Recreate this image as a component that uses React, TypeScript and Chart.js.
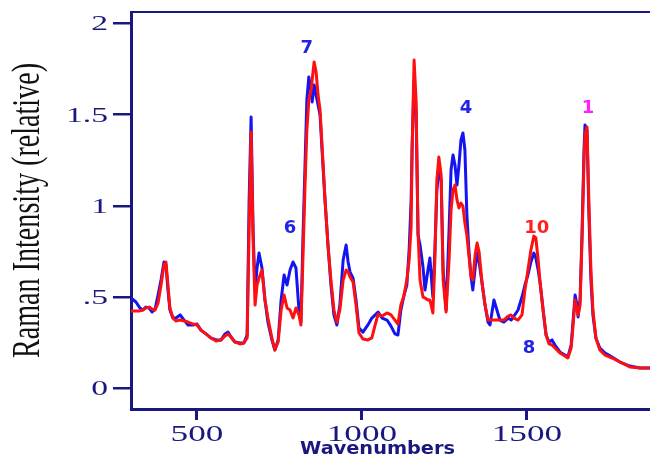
import React, { useEffect, useRef } from "react";
import { Chart, registerables } from "chart.js";

Chart.register(...registerables);

// Raman shift (cm-1), shared by both spectra
const wavenumbers = [
  300, 315, 327, 336, 345, 355, 364, 373, 382, 391,
  400, 406, 412, 418, 427, 436, 449, 461, 473, 488,
  500, 512, 527, 542, 558, 573, 585, 594, 603, 615,
  630, 642, 652, 658, 664, 670, 676, 682, 688, 697,
  706, 715, 727, 736, 746, 755, 764, 773, 782, 791,
  800, 809, 815, 821, 827, 833, 839, 846, 849, 855,
  861, 867, 873, 879, 888, 897, 906, 915, 924, 933,
  943, 952, 958, 964, 973, 982, 991, 1003, 1018, 1030,
  1040, 1049, 1061, 1076, 1088, 1100, 1109, 1118, 1127, 1136,
  1143, 1149, 1152, 1158, 1164, 1170, 1176, 1185, 1191, 1200,
  1206, 1215, 1221, 1227, 1233, 1240, 1246, 1255, 1264, 1270,
  1276, 1282, 1288, 1294, 1300, 1306, 1312, 1318, 1324, 1330,
  1336, 1343, 1349, 1355, 1364, 1373, 1382, 1388, 1400, 1409,
  1418, 1430, 1443, 1452, 1461, 1473, 1485, 1494, 1503, 1512,
  1521, 1527, 1534, 1540, 1549, 1558, 1567, 1576, 1585, 1600,
  1615, 1624, 1634, 1640, 1646, 1652, 1655, 1661, 1667, 1673,
  1676, 1682, 1688, 1694, 1700, 1709, 1721, 1737, 1758, 1782,
  1812, 1843, 1873,
];

// Blue spectrum (relative intensity)
const blueIntensity = [
  0.495, 0.473, 0.44, 0.429, 0.445, 0.44, 0.418, 0.434, 0.511, 0.593,
  0.692, 0.676, 0.539, 0.429, 0.385, 0.385, 0.402, 0.374, 0.347, 0.347,
  0.352, 0.319, 0.298, 0.276, 0.265, 0.265, 0.298, 0.308, 0.281, 0.254,
  0.248, 0.248, 0.292, 1.032, 1.486, 0.867, 0.539, 0.659, 0.741, 0.659,
  0.484, 0.363, 0.265, 0.21, 0.265, 0.484, 0.621, 0.566, 0.648, 0.692,
  0.659, 0.429, 0.363, 0.813, 1.196, 1.58, 1.706, 1.623, 1.569, 1.662,
  1.607, 1.552, 1.497, 1.306, 1.032, 0.785, 0.566, 0.402, 0.347, 0.456,
  0.703, 0.785, 0.692, 0.637, 0.604, 0.484, 0.33, 0.308, 0.347, 0.385,
  0.402, 0.418, 0.385, 0.374, 0.341, 0.298, 0.292, 0.429, 0.506, 0.566,
  0.758, 1.032, 1.322, 1.689, 1.525, 0.84, 0.785, 0.665, 0.539, 0.648,
  0.714, 0.5, 0.758, 1.086, 1.196, 1.141, 0.648, 0.429, 0.867, 1.196,
  1.278, 1.223, 1.114, 1.223, 1.36, 1.399, 1.306, 0.95, 0.758, 0.621,
  0.539, 0.659, 0.741, 0.692, 0.577, 0.456, 0.363, 0.347, 0.484, 0.429,
  0.374, 0.363, 0.385, 0.374, 0.396, 0.429, 0.5, 0.566, 0.621, 0.692,
  0.741, 0.714, 0.648, 0.577, 0.429, 0.292, 0.254, 0.265, 0.237, 0.199,
  0.182, 0.171, 0.237, 0.374, 0.511, 0.456, 0.391, 0.484, 0.851, 1.306,
  1.443, 1.415, 0.939, 0.593, 0.402, 0.276, 0.221, 0.193, 0.171, 0.144,
  0.122, 0.111, 0.111,
];

// Red spectrum (relative intensity)
const redIntensity = [
  0.424, 0.424, 0.424, 0.429, 0.44, 0.445, 0.434, 0.429, 0.467, 0.566,
  0.676, 0.692, 0.566, 0.44, 0.385, 0.369, 0.374, 0.369, 0.363, 0.352,
  0.347, 0.319, 0.298, 0.276, 0.259, 0.265, 0.287, 0.298, 0.281, 0.254,
  0.243, 0.248, 0.276, 0.867, 1.404, 0.813, 0.456, 0.566, 0.604, 0.648,
  0.484, 0.385, 0.276, 0.21, 0.254, 0.429, 0.511, 0.44, 0.429, 0.385,
  0.44, 0.402, 0.347, 0.703, 1.086, 1.415, 1.58, 1.634, 1.689, 1.788,
  1.733, 1.607, 1.525, 1.333, 1.032, 0.785, 0.593, 0.429, 0.363, 0.429,
  0.593, 0.648, 0.637, 0.61, 0.582, 0.456, 0.303, 0.27, 0.265, 0.276,
  0.347, 0.407, 0.396, 0.413, 0.402, 0.374, 0.352, 0.456, 0.506, 0.593,
  0.703, 0.884, 1.306, 1.799, 1.58, 0.851, 0.593, 0.5, 0.495, 0.484,
  0.484, 0.413, 0.703, 1.141, 1.267, 1.169, 0.593, 0.418, 0.703, 0.977,
  1.086, 1.114, 1.032, 0.988, 1.015, 0.999, 0.906, 0.84, 0.73, 0.621,
  0.593, 0.73, 0.796, 0.747, 0.577, 0.456, 0.374, 0.374, 0.374, 0.374,
  0.374, 0.374, 0.396, 0.402, 0.385, 0.374, 0.402, 0.539, 0.648, 0.758,
  0.834, 0.824, 0.703, 0.577, 0.429, 0.292, 0.243, 0.237, 0.221, 0.193,
  0.177, 0.166, 0.221, 0.347, 0.484, 0.429, 0.402, 0.456, 0.813, 1.251,
  1.388, 1.432, 1.004, 0.648, 0.429, 0.276, 0.21, 0.182, 0.166, 0.144,
  0.117, 0.111, 0.111,
];

const xTickValues = [500, 1000, 1500];
const xTickLabels = ["500", "1000", "1500"];
const yTickValues = [0, 0.5, 1, 1.5, 2];
const yTickLabels = ["0", ".5", "1", "1.5", "2"];

// Peak annotations
const peakLabels = ["7", "6", "4", "1", "10", "8"];
const peakWavenumbers = [833, 782, 1315, 1685, 1530, 1506];
const peakIntensities = [1.865, 0.878, 1.536, 1.536, 0.878, 0.221];
const peakColors = ["#2323e8", "#2323e8", "#2323e8", "#ff22ff", "#ff2020", "#2323e8"];

const NAVY = "#18187e";

const decorPlugin = {
  id: "decor",
  afterDraw(chart: any) {
    const ctx = chart.ctx as CanvasRenderingContext2D;
    const area = chart.chartArea;
    const xs = chart.scales.x;
    const ys = chart.scales.y;
    ctx.save();

    // top frame line
    ctx.strokeStyle = NAVY;
    ctx.lineWidth = 2;
    ctx.beginPath();
    ctx.moveTo(area.left, area.top);
    ctx.lineTo(area.right, area.top);
    ctx.stroke();

    // tick labels (wide serif)
    ctx.fillStyle = NAVY;
    ctx.font = "23px 'Liberation Serif'";
    ctx.textBaseline = "alphabetic";
    const sx = 1.53;
    xTickValues.forEach((v, i) => {
      const px = xs.getPixelForValue(v);
      ctx.save();
      ctx.translate(px, area.bottom + 32);
      ctx.scale(sx, 1);
      ctx.textAlign = "center";
      ctx.fillText(xTickLabels[i], 0, 0);
      ctx.restore();
    });
    ctx.font = "22px 'Liberation Serif'";
    yTickValues.forEach((v, i) => {
      const py = ys.getPixelForValue(v);
      ctx.save();
      ctx.translate(area.left - 23, py + 7);
      ctx.scale(sx, 1);
      ctx.textAlign = "right";
      ctx.fillText(yTickLabels[i], 0, 0);
      ctx.restore();
    });

    // y axis title (condensed serif)
    ctx.save();
    ctx.fillStyle = "#111111";
    ctx.font = "41px 'Liberation Serif'";
    const yTitle = "Raman Intensity (relative)";
    const w = ctx.measureText(yTitle).width;
    ctx.translate(39, 210.5);
    ctx.rotate(-Math.PI / 2);
    ctx.scale(295 / w, 1);
    ctx.textAlign = "center";
    ctx.textBaseline = "alphabetic";
    ctx.fillText(yTitle, 0, 0);
    ctx.restore();

    // x axis title
    ctx.save();
    ctx.fillStyle = NAVY;
    ctx.font = "bold 18px 'DejaVu Sans'";
    const xTitle = "Wavenumbers";
    const xw = ctx.measureText(xTitle).width;
    ctx.translate(377.5, 454);
    ctx.scale(155 / xw, 1);
    ctx.textAlign = "center";
    ctx.textBaseline = "alphabetic";
    ctx.fillText(xTitle, 0, 0);
    ctx.restore();

    // peak labels
    ctx.font = "bold 18px 'DejaVu Sans'";
    ctx.textAlign = "center";
    ctx.textBaseline = "middle";
    peakLabels.forEach((t, i) => {
      ctx.fillStyle = peakColors[i];
      ctx.fillText(t, xs.getPixelForValue(peakWavenumbers[i]), ys.getPixelForValue(peakIntensities[i]));
    });

    ctx.restore();
  },
};

export default function App() {
  const ref = useRef<HTMLCanvasElement | null>(null);

  useEffect(() => {
    if (!ref.current) return;
    const chart = new Chart(ref.current, {
      type: "line",
      data: {
        datasets: [
          {
            label: "Red spectrum",
            data: wavenumbers.map((x, i) => ({ x, y: redIntensity[i] })),
            borderColor: "#ff1010",
            borderWidth: 3,
            pointRadius: 0,
            tension: 0,
            fill: false,
            borderJoinStyle: "round",
          },
          {
            label: "Blue spectrum",
            data: wavenumbers.map((x, i) => ({ x, y: blueIntensity[i] })),
            borderColor: "#1414f0",
            borderWidth: 3,
            pointRadius: 0,
            tension: 0,
            fill: false,
            borderJoinStyle: "round",
          },
        ],
      },
      options: {
        responsive: false,
        animation: false,
        events: [],
        layout: { padding: { top: 12, left: 0, right: 0, bottom: 0 } },
        plugins: { legend: { display: false }, tooltip: { enabled: false } },
        scales: {
          x: {
            type: "linear",
            min: 300,
            max: 1873,
            afterFit: (s: any) => {
              s.height = 47;
            },
            afterBuildTicks: (s: any) => {
              s.ticks = xTickValues.map((v) => ({ value: v }));
            },
            ticks: { display: false },
            grid: {
              display: true,
              drawOnChartArea: false,
              drawTicks: true,
              tickLength: 11,
              color: NAVY,
              lineWidth: 3,
            },
            border: { display: true, color: NAVY, width: 3 },
          },
          y: {
            type: "linear",
            min: -0.1134,
            max: 2.0619,
            afterFit: (s: any) => {
              s.width = 131;
            },
            afterBuildTicks: (s: any) => {
              s.ticks = yTickValues.map((v) => ({ value: v }));
            },
            ticks: { display: false },
            grid: {
              display: true,
              drawOnChartArea: false,
              drawTicks: true,
              tickLength: 18,
              color: NAVY,
              lineWidth: 2.5,
            },
            border: { display: true, color: NAVY, width: 3 },
          },
        },
      },
      plugins: [decorPlugin],
    } as any);
    return () => chart.destroy();
  }, []);

  return (
    <div style={{ position: "fixed", left: 0, top: 0, width: 650, height: 456, background: "#ffffff" }}>
      <canvas ref={ref} width={650} height={456} style={{ display: "block" }} />
    </div>
  );
}
